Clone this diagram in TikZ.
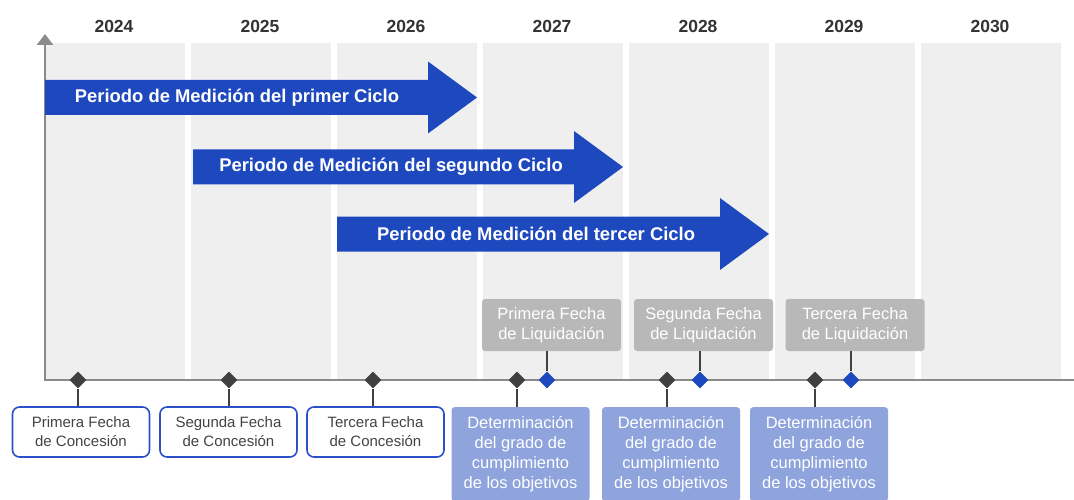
\documentclass[tikz,border=0pt]{standalone}
\usepackage{fontspec}
\setmainfont{Liberation Sans}
\usetikzlibrary{arrows.meta, shapes.geometric}

\definecolor{colbg}{HTML}{EFEFEF}
\definecolor{axisgray}{HTML}{8A8A8A}
\definecolor{periodblue}{HTML}{1E48BE}
\definecolor{evalfill}{HTML}{8FA3DC}
\definecolor{settlegray}{HTML}{B8B8B8}
\definecolor{markdark}{HTML}{404040}
\definecolor{yeartext}{HTML}{333333}
\definecolor{grantborder}{HTML}{2A50C8}
\definecolor{granttext}{HTML}{444444}

\tikzset{
  yearlbl/.style={font=\bfseries\fontsize{17.5}{20}\selectfont, text=yeartext},
  periodlbl/.style={font=\bfseries\fontsize{18.4}{20}\selectfont, text=white},
  grantbox/.style={draw=grantborder, line width=1.6pt, rounded corners=7pt, fill=white,
    minimum width=137pt, minimum height=50pt, inner sep=0pt, align=center,
    font=\fontsize{15}{19}\selectfont, text=granttext},
  settlebox/.style={fill=settlegray, rounded corners=3pt, minimum width=139pt,
    minimum height=52pt, inner sep=0pt, align=center,
    font=\fontsize{16.5}{20.5}\selectfont, text=white},
  evalbox/.style={fill=evalfill, rounded corners=3pt, minimum width=138pt,
    minimum height=94pt, inner sep=0pt, align=center, anchor=north,
    font=\fontsize{16.5}{20}\selectfont, text=white},
  darkmark/.style={diamond, fill=markdark, minimum size=17pt, inner sep=0pt},
  bluemark/.style={diamond, fill=periodblue, minimum size=17pt, inner sep=0pt},
  stem/.style={draw=markdark, line width=2pt},
  axisline/.style={draw=axisgray, line width=2.5pt},
}

\begin{document}
\begin{tikzpicture}[x=1pt, y=-1pt]
  \useasboundingbox (0,0) rectangle (1074,500);
  \clip (0,0) rectangle (1074,500);

  % year columns
  \foreach \yr [count=\i from 0] in {2024,...,2030} {
    \fill[colbg] ({45+146*\i},43) rectangle ++(140,337);
    \node[yearlbl] (y\yr) at ({114+146*\i},26) {\yr};
  }

  % axis
  \draw[axisline, {Triangle[width=16pt,length=11pt]}-] (45,34) -- (45,380) -- (1074,380);

  % measurement periods
  \foreach \x/\hx/\y/\tx/\cyc in {45/428/97.5/237/primer, 193/574/167/391/segundo,
      337/720/234/536/tercer} {
    \fill[periodblue] (\x,\y-17.5) -- (\hx,\y-17.5) -- (\hx,\y-36) -- (\hx+49,\y)
      -- (\hx,\y+36) -- (\hx,\y+17.5) -- (\x,\y+17.5) -- cycle;
    \node[periodlbl] (per-\cyc) at (\tx,\y) {Periodo de Medición del \cyc{} Ciclo};
  }

  % grant dates
  \foreach \x/\bx/\n/\ord in {78/81/1/Primera, 229/228.5/2/Segunda, 373/375.5/3/Tercera} {
    \node[darkmark] (gm\n) at (\x,380) {};
    \node[grantbox] (gb\n) at (\bx,432) {\ord{} Fecha\\de Concesión};
    \draw[stem] (gm\n.south) -- (gm\n.south |- gb\n.north);
  }

  % evaluation and settlement dates
  \foreach \dx/\ex/\sx/\lx/\n/\ord in {517/520.5/547/551.5/1/Primera, 667/671/700/703.5/2/Segunda,
      815/819/851/855/3/Tercera} {
    \node[darkmark] (em\n) at (\dx,380) {};
    \node[bluemark] (sm\n) at (\sx,380) {};
    \node[evalbox] (eb\n) at (\ex,407) {Determinación\\del grado de\\cumplimiento\\de los objetivos};
    \node[settlebox] (sb\n) at (\lx,325) {\ord{} Fecha\\de Liquidación};
    \draw[stem] (em\n.south) -- (em\n.south |- eb\n.north);
    \draw[stem] (sm\n.north) -- (sm\n.north |- sb\n.south);
  }
\end{tikzpicture}
\end{document}
